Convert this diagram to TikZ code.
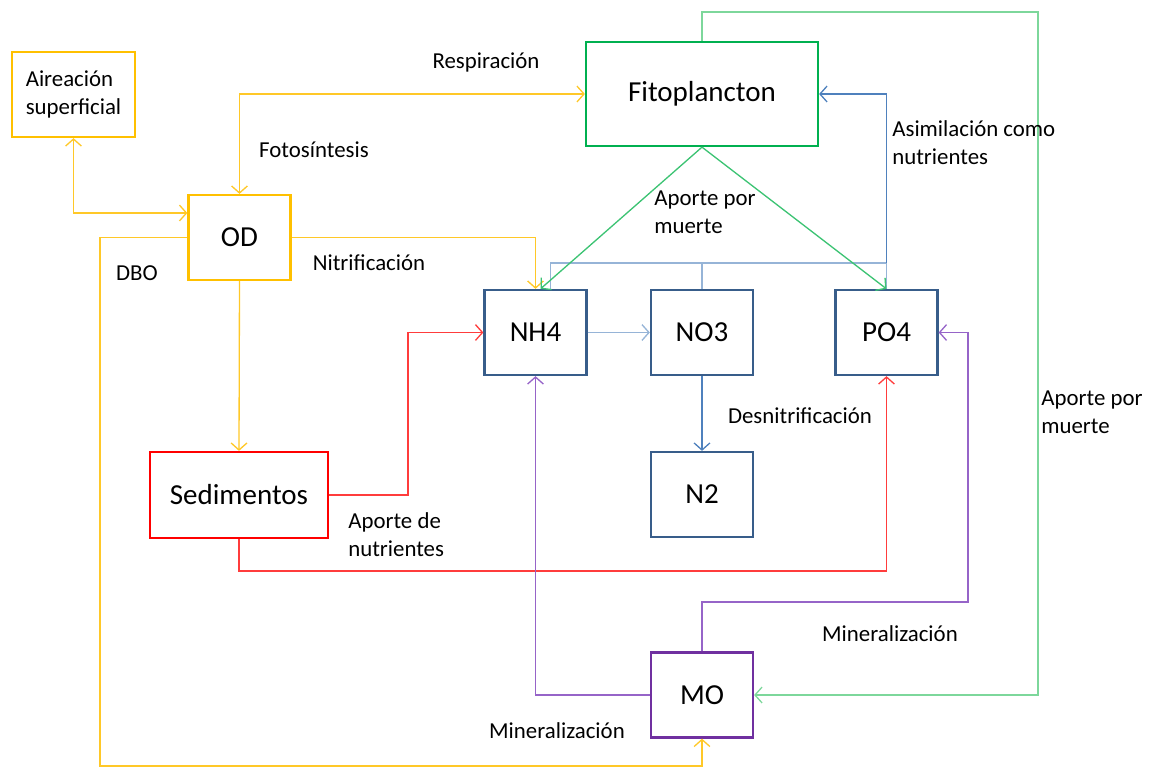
\documentclass[tikz,border=0pt]{standalone}
\usepackage{fontspec}
\setmainfont{Carlito}
\usetikzlibrary{arrows.meta,calc}

\definecolor{amarillo}{RGB}{255,192,0}
\definecolor{amarillolin}{RGB}{255,200,40}
\definecolor{verde}{RGB}{0,176,80}
\definecolor{verdelin}{RGB}{60,195,115}
\definecolor{verdeclaro}{RGB}{125,215,155}
\definecolor{rojo}{RGB}{255,0,0}
\definecolor{rojolin}{RGB}{255,60,60}
\definecolor{azul}{RGB}{56,93,138}
\definecolor{azullin}{RGB}{79,129,189}
\definecolor{azulclaro}{RGB}{150,180,215}
\definecolor{morado}{RGB}{112,48,160}
\definecolor{moradolin}{RGB}{150,100,200}

\begin{document}
\begin{tikzpicture}[x=0.02cm,y=-0.02cm,
  caja/.style={draw,line width=1.3pt,fill=white,minimum width=2.04cm,minimum height=1.7cm,font=\fontsize{16.5}{20}\selectfont},
  etiq/.style={font=\fontsize{13}{16}\selectfont,align=left,inner sep=0pt},
  lin/.style={line width=0.75pt},
  flecha/.style={lin,-{Straight Barb[length=4pt,width=9pt]}},
  doble/.style={lin,{Straight Barb[length=4pt,width=9pt]}-{Straight Barb[length=4pt,width=9pt]}}]
\useasboundingbox (0,0) rectangle (1154,769);

% cajas
\node[caja,draw=amarillo,minimum width=2.46cm,align=left,font=\fontsize{13}{16}\selectfont] (aire) at (73.5,94.5) {Aireación\\superficial};
\node[caja,draw=amarillo] (od) at (239.5,237.5) {OD};
\node[caja,draw=verde,minimum width=4.64cm,minimum height=2.08cm] (fito) at (702,94) {Fitoplancton};
\node[caja,draw=rojo,minimum width=3.56cm,minimum height=1.72cm] (sed) at (239,495) {Sedimentos};
\node[caja,draw=azul] (nh) at (535.5,332.5) {NH4};
\node[caja,draw=azul] (no) at (702,332.5) {NO3};
\node[caja,draw=azul] (po) at (886.5,332.5) {PO4};
\node[caja,draw=azul] (ntwo) at (702,494.5) {N2};
\node[caja,draw=morado] (mo) at (702,695) {MO};

% oxigeno
\draw[doble,amarillolin] (od.north) |- (fito.west);
\draw[doble,amarillolin] (aire.south) |- ($(od.west)+(0,-24.5)$);
\draw[flecha,amarillolin] (od.east) -| (nh.north);
\draw[flecha,amarillolin] (od.south) -- (sed.north);
\draw[flecha,amarillolin] (od.west) -| (100,766) -| (mo.south);

% sedimentos
\draw[flecha,rojolin] (sed.east) -- ++(79,0) |- (nh.west);
\draw[flecha,rojolin] (sed.south) -- ++(0,32) -| (po.south);

% nitrogeno
\draw[flecha,azulclaro] (nh.east) -- (no.west);
\draw[flecha,azullin] (no.south) -- (ntwo.north);
\coordinate (asim) at (886.5,263);
\draw[lin,azulclaro] ($(nh.north)+(15,0)$) |- (asim);
\draw[lin,azulclaro] (no.north) -- (no.north |- asim);
\draw[lin,azulclaro] (po.north) -- (asim);
\draw[flecha,azullin] (asim) |- (fito.east);

% fitoplancton
\draw[flecha,verdelin] (fito.south) -- ($(nh.north)+(5,0)$);
\draw[flecha,verdelin] (fito.south) -- (po.north);
\draw[flecha,verdeclaro] (fito.north) |- (1038,12) |- (mo.east);

% materia organica
\draw[flecha,moradolin] (mo.west) -| (nh.south);
\draw[flecha,moradolin] (mo.north) |- (968,602) |- (po.east);

% etiquetas
\node[etiq] (lresp) at (486,62) {Respiración};
\node[etiq] (lfoto) at (314,150) {Fotosíntesis};
\node[etiq] (lnitr) at (369,263) {Nitrificación};
\node[etiq] (ldbo) at (137,273) {DBO};
\node[etiq,anchor=west] (lnutr) at (348,535) {Aporte de\\nutrientes};
\node[etiq,anchor=west] (lmuer) at (654,212) {Aporte por\\muerte};
\node[etiq,anchor=west] (lasim) at (892,143) {Asimilación como\\nutrientes};
\node[etiq] (ldesn) at (800,416) {Desnitrificación};
\node[etiq,anchor=west] (lmuer2) at (1041,412) {Aporte por\\muerte};
\node[etiq] (lmin) at (890,634) {Mineralización};
\node[etiq] (lmin2) at (557,731) {Mineralización};
\end{tikzpicture}
\end{document}
